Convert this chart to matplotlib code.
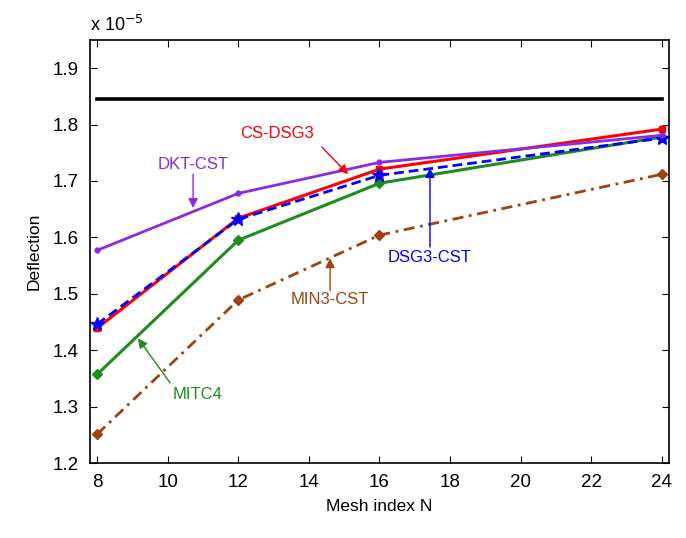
import matplotlib
matplotlib.use("Agg")
import matplotlib.pyplot as plt

plt.rcParams["font.family"] = ["Liberation Sans", "DejaVu Sans"]

# mesh index N
mesh_n = [8, 12, 16, 24]

# deflection, units of 1e-5
dkt_cst = [1.577, 1.678, 1.733, 1.781]
cs_dsg3 = [1.439, 1.634, 1.721, 1.792]
dsg3_cst = [1.446, 1.632, 1.710, 1.776]
mitc4 = [1.357, 1.595, 1.696, 1.778]
min3_cst = [1.251, 1.489, 1.604, 1.712]
exact_x = [8, 24]
exact = [1.845, 1.845]

PURPLE = "#8A2BE2"
RED = "#FF0000"
BLUE = "#0000FF"
GREEN = "#1E8C1E"
BROWN = "#A0420F"

fig = plt.figure(figsize=(6.86, 5.38), dpi=100)
ax = fig.add_axes([0.1312, 0.1394, 0.8440, 0.7863])

ax.plot(exact_x, exact, color="black", lw=2.6)
ax.plot(mesh_n, min3_cst, color=BROWN, lw=2.0, ls=(0, (4, 2, 1, 2)),
        marker="D", ms=5)
ax.plot(mesh_n, mitc4, color=GREEN, lw=2.2, marker="D", ms=5)
ax.plot(mesh_n, cs_dsg3, color=RED, lw=2.2, marker="s", ms=4)
ax.plot(mesh_n, dsg3_cst, color=BLUE, lw=2.0, ls=(0, (3.5, 1.8)),
        marker="*", ms=10)
ax.plot(mesh_n, dkt_cst, color=PURPLE, lw=2.0, marker="o", ms=3.5)

arrow = dict(arrowstyle="-|>", lw=1.0, mutation_scale=14, shrinkA=0, shrinkB=0)
ax.annotate("", xy=(10.72, 1.652), xytext=(10.72, 1.712),
            arrowprops=dict(arrow, color=PURPLE))
ax.text(10.72, 1.730, "DKT-CST", color=PURPLE, fontsize=12,
        ha="center", va="center")
ax.annotate("", xy=(15.11, 1.712), xytext=(14.37, 1.760),
            arrowprops=dict(arrow, color=RED))
ax.text(13.10, 1.785, "CS-DSG3", color=RED, fontsize=12,
        ha="center", va="center")
ax.annotate("", xy=(17.43, 1.723), xytext=(17.43, 1.583),
            arrowprops=dict(arrow, color=BLUE))
ax.text(17.43, 1.565, "DSG3-CST", color=BLUE, fontsize=12,
        ha="center", va="center")
ax.annotate("", xy=(14.60, 1.563), xytext=(14.60, 1.506),
            arrowprops=dict(arrow, color=BROWN))
ax.text(14.60, 1.490, "MIN3-CST", color=BROWN, fontsize=12,
        ha="center", va="center")
ax.annotate("", xy=(9.16, 1.421), xytext=(10.07, 1.342),
            arrowprops=dict(arrow, color=GREEN))
ax.text(10.86, 1.322, "MITC4", color=GREEN, fontsize=12,
        ha="center", va="center")

ax.set_xlim(7.8, 24.2)
ax.set_ylim(1.2, 1.95)
ax.set_xticks(range(8, 25, 2))
ax.set_yticks([1.2, 1.3, 1.4, 1.5, 1.6, 1.7, 1.8, 1.9])
ax.tick_params(direction="in", top=True, right=True, length=5,
               labelsize=13.5, pad=8)
ax.set_xlabel("Mesh index N", fontsize=12.5, labelpad=6)
ax.set_ylabel("Deflection", fontsize=12.5, labelpad=8)
ax.text(0.0, 1.035, r"x 10$^{-5}$", transform=ax.transAxes, fontsize=13,
        ha="left", va="center")
for s in ax.spines.values():
    s.set_linewidth(1.2)

fig.savefig("out.png", dpi=100)
